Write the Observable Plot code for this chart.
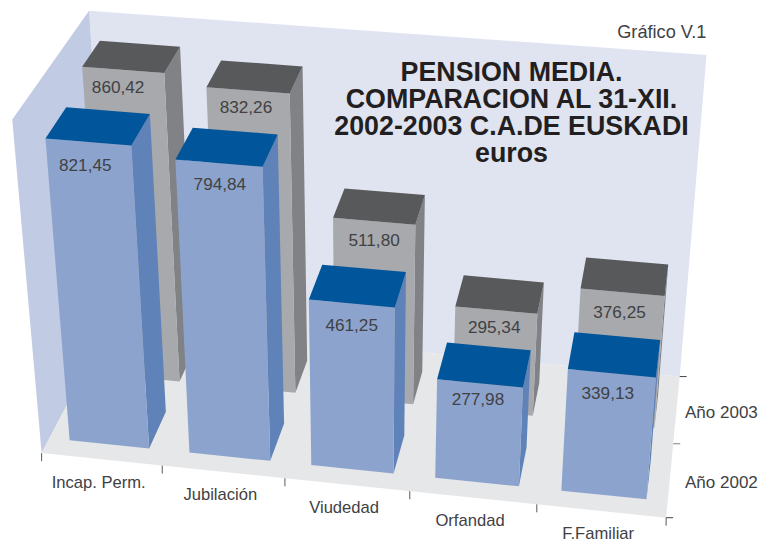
<!doctype html>
<html><head><meta charset="utf-8">
<style>html,body{margin:0;padding:0;background:#fff}svg{display:block}</style>
<script src="https://cdn.jsdelivr.net/npm/d3@7"></script>
<script src="https://cdn.jsdelivr.net/npm/@observablehq/plot@0.6"></script>
</head><body>
<div id="chart"></div>
<script>
// ---- data
const categories = ["Incap. Perm.", "Jubilación", "Viudedad", "Orfandad", "F.Familiar"];
const values2003 = [860.42, 832.26, 511.80, 295.34, 376.25];
const values2002 = [821.45, 794.84, 461.25, 277.98, 339.13];
const seriesNames = ["Año 2002", "Año 2003"];
const titleLines = ["PENSION MEDIA.", "COMPARACION AL 31-XII.", "2002-2003 C.A.DE EUSKADI", "euros"];
const chartTag = "Gráfico V.1";

// ---- 3D camera: category position u, depth v, height h (hundreds of euros)
const P = [0.2384812, 0.0790393, -0.006773584, 0.08224744,
           0.01705647, -0.09858268, -0.07670056, 0.9051986,
           -0.008494263, 0.04859463, -0.009266001];
const project = (u, v, h) => {
  const w = P[8]*u + P[9]*v + P[10]*h + 1;
  return [(P[0]*u + P[1]*v + P[2]*h + P[3]) / w * 500,
          (P[4]*u + P[5]*v + P[6]*h + P[7]) / w * 500];
};
const barU = [0.1703913, 0.8357712];
const rowV2002 = [0.2102294, 0.7435515];
const rowV2003 = [1.201744, 1.699654];
const wallTop = 8.959288;

const colors = {
  back: "#dfe4f0", left: "#c1cce4", floor: "#e6e7e9",
  grayFront: "#a7a9ac", graySide: "#808285", grayTop: "#58595b",
  blueFront: "#8ca4cd", blueSide: "#5f82b9", blueTop: "#00559b"
};

// ---- polygons
const faces = [];
let faceId = 0;
const addFace = (fill, pts) => {
  const id = faceId++;
  for (const [u, v, h] of pts) {
    const [x, y] = project(u, v, h);
    faces.push({id, fill, x, y});
  }
};
addFace(colors.back, [[0,2,0],[0,2,wallTop],[5,2,wallTop],[5,2,0]]);
addFace(colors.left, [[0,0,0],[0,0,wallTop],[0,2,wallTop],[0,2,0]]);
addFace(colors.floor, [[0,0,0],[5,0,0],[5,2,0],[0,2,0]]);
const addBars = (values, [v0, v1], front, side, top) => values.forEach((val, i) => {
  const h = val / 100, L = i + barU[0], R = i + barU[1];
  addFace(side, [[R,v0,0],[R,v1,0],[R,v1,h],[R,v0,h]]);
  addFace(front, [[L,v0,0],[R,v0,0],[R,v0,h],[L,v0,h]]);
  addFace(top, [[L,v0,h],[R,v0,h],[R,v1,h],[L,v1,h]]);
});
addBars(values2003, rowV2003, colors.grayFront, colors.graySide, colors.grayTop);
addBars(values2002, rowV2002, colors.blueFront, colors.blueSide, colors.blueTop);

// ---- value labels sit just under the front top edge of each bar
const fmt = v => v.toFixed(2).replace(".", ",");
const nudge2003 = [[-5,18],[-2,17],[0,19],[-2,17],[-3,20]];
const nudge2002 = [[-3,24],[1,21],[0,22],[-2,16],[-4,20]];
const valueLabel = (values, [v0], nudge) => values.map((val, i) => {
  const [x, y] = project(i + (barU[0]+barU[1])/2, v0, val/100);
  return {x: x + nudge[i][0], y: y + nudge[i][1], text: fmt(val)};
});
const valueLabels = [
  ...valueLabel(values2003, rowV2003, nudge2003),
  ...valueLabel(values2002, rowV2002, nudge2002)
];

// ---- axes
const catTicks = d3.range(0, 6).map(i => {
  const [x, y] = project(i, 0, 0);
  return {x1: x, y1: y, x2: x, y2: y + 8};
});
const depthTicks = [0, 1, 2].map(v => {
  const [x, y] = project(5, v, 0);
  return {x1: x, y1: y, x2: x + 7, y2: y, c: v === 1 ? "#808285" : "#414042"};
});
const catLabels = categories.map((text, i) => {
  const [x, y] = project(i + 0.5, 0, 0);
  return {x: x - 3, y: y + 23, text};
});
const seriesLabels = seriesNames.map((text, i) => ({x: 684.5, y: project(5, i + 0.5, 0)[1] + 3, text}));

const font = "'Liberation Sans', Arial, sans-serif";
const textColor = "#414144";
const chart = Plot.plot({
  width: 761, height: 542,
  margin: 0,
  x: {domain: [0, 761], range: [0, 761], axis: null},
  y: {domain: [0, 542], range: [0, 542], axis: null},
  color: {type: "identity"},
  style: {background: "#fff", fontFamily: font},
  marks: [
    Plot.line(faces, {x: "x", y: "y", z: "id", fill: "fill", stroke: "none", curve: "linear-closed"}),
    Plot.link(catTicks, {x1: "x1", y1: "y1", x2: "x2", y2: "y2", stroke: "#58595b", strokeWidth: 1}),
    Plot.link(depthTicks, {x1: "x1", y1: "y1", x2: "x2", y2: "y2", stroke: "c", strokeWidth: 1}),
    Plot.text(valueLabels, {x: "x", y: "y", text: "text", fontSize: 17.2, fill: textColor}),
    Plot.text(catLabels, {x: "x", y: "y", text: "text", fontSize: 16.6, fill: textColor}),
    Plot.text(seriesLabels, {x: "x", y: "y", text: "text", fontSize: 17, fill: textColor, textAnchor: "start"}),
    Plot.text([chartTag], {x: () => 706, y: () => 32, text: d => d, fontSize: 18.2, fill: textColor, textAnchor: "end"}),
    Plot.text([titleLines.join("\n")], {
      x: () => 511, y: () => 112.5, text: d => d, lineHeight: 1.0075,
      fontSize: 26.8, fontWeight: "bold", fill: "#231f20"
    })
  ]
});
document.getElementById("chart").append(chart);
</script></body></html>
